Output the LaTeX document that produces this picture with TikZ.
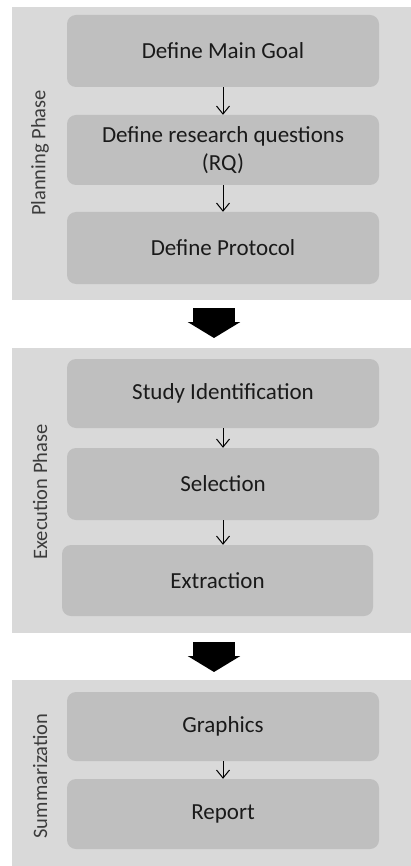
\documentclass[tikz,border=0pt]{standalone}
\usepackage{fontspec}
\setmainfont{Carlito}
\usetikzlibrary{arrows.meta}
\definecolor{panelgray}{HTML}{D9D9D9}
\definecolor{boxgray}{HTML}{BFBFBF}
\definecolor{txt}{HTML}{1A1A1A}
\begin{document}
\begin{tikzpicture}[x=1pt,y=-1pt,
  panel/.style={fill=panelgray, draw=none, inner sep=0pt, anchor=north west},
  stepbox/.style={fill=boxgray, draw=none, rounded corners=9pt, inner sep=0pt,
    minimum width=312pt, align=center, text=txt, font=\fontsize{23}{27.5}\selectfont},
  sidelabel/.style={rotate=90, text=txt!85, font=\fontsize{20.5}{24}\selectfont, inner sep=0pt},
  thinarrow/.style={draw=black, line width=1pt, -{Straight Barb[length=8pt,width=13pt]}},
  bigarrow/.style={draw=black, line width=42pt, -{Triangle[length=16pt,width=52pt]}}
]
\useasboundingbox (0,0) rectangle (411,866);
\fill[white] (0,0) rectangle (411,866);
% panels
\node[panel, minimum width=399pt, minimum height=293pt] (p1) at (12,7) {};
\node[panel, minimum width=399pt, minimum height=285pt] (p2) at (12,348) {};
\node[panel, minimum width=399pt, minimum height=186pt] (p3) at (12,680) {};
% side labels
\node[sidelabel] (l1) at (40,153) {Planning Phase};
\node[sidelabel] (l2) at (40,492) {Execution Phase};
\node[sidelabel] (l3) at (40,776) {Summarization};
% boxes
\node[stepbox, minimum height=72pt] (b1) at (223,51) {Define Main Goal};
\node[stepbox, minimum height=70pt] (b2) at (223,150) {Define research questions\\(RQ)};
\node[stepbox, minimum height=72pt] (b3) at (223,248) {Define Protocol};
\node[stepbox, minimum height=69pt] (b4) at (223,393.5) {Study Identification};
\node[stepbox, minimum height=72pt] (b5) at (223,484) {Selection};
\node[stepbox, minimum height=71pt, minimum width=311pt] (b6) at (217.5,580.5) {Extraction};
\node[stepbox, minimum height=69pt] (b7) at (223,726.5) {Graphics};
\node[stepbox, minimum height=70pt] (b8) at (223,814) {Report};
% thin arrows
\draw[thinarrow] (b1.south) -- (b2.north);
\draw[thinarrow] (b2.south) -- (b3.north);
\draw[thinarrow] (b4.south) -- (b5.north);
\draw[thinarrow] (b5.south) -- (b5.south |- b6.north);
\draw[thinarrow] (b7.south) -- (b8.north);
% big arrows
\coordinate (a1s) at (214,308);
\coordinate (a1e) at (214,338);
\coordinate (a2s) at (214,642);
\coordinate (a2e) at (214,672);
\draw[bigarrow] (a1s) -- (a1e);
\draw[bigarrow] (a2s) -- (a2e);
\end{tikzpicture}
\end{document}
